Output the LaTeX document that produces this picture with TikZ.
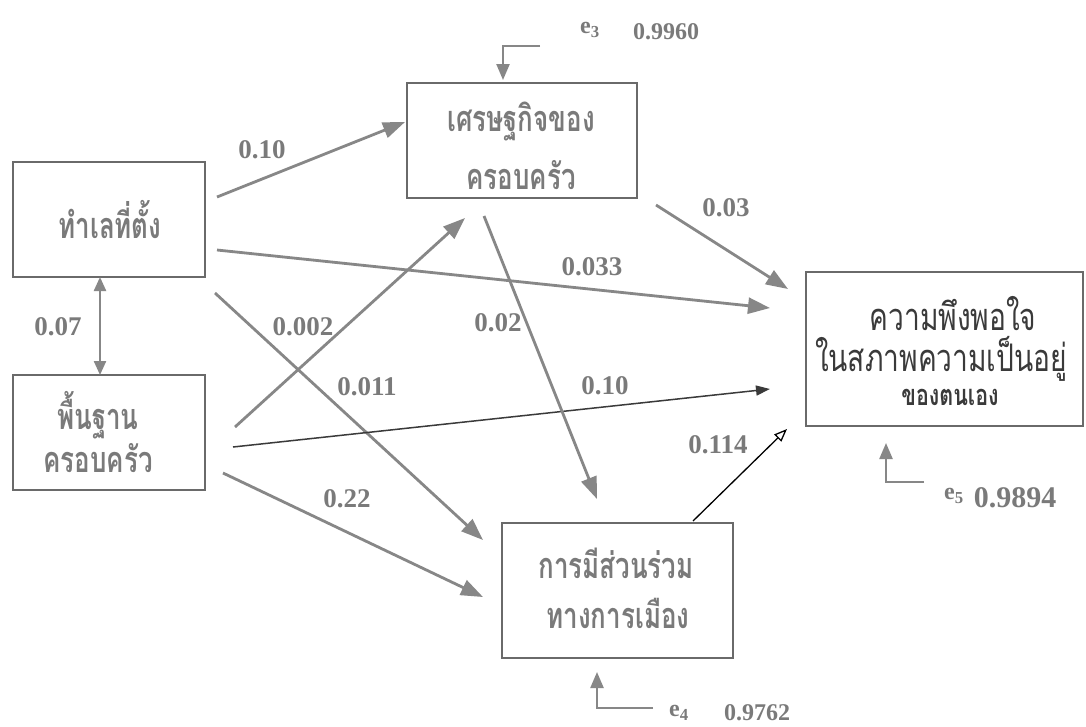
\documentclass[tikz,border=0pt]{standalone}
\usepackage{fontspec}
\setmainfont{Liberation Serif}
\newfontfamily\thaifont[Script=Thai, FakeStretch=0.72]{Loma}
\newfontfamily\thaiefont[Script=Thai, FakeStretch=0.74]{Loma}
\usetikzlibrary{arrows.meta}
\definecolor{lin}{HTML}{878787}
\definecolor{txt}{HTML}{7A7A7A}
\definecolor{boxc}{HTML}{6A6A6A}
\definecolor{dark}{HTML}{3A3A3A}
\tikzset{
  box/.style={draw=boxc, line width=1.8pt, inner sep=0pt},
  conn/.style={draw=lin, line width=2.8pt, -{Triangle[length=22pt,width=16pt]}},
  thinconn/.style={draw=dark, line width=1.5pt, -{Triangle[length=14pt,width=10pt]}},
  openconn/.style={draw=black, line width=1.3pt, -{Triangle[open,length=13pt,width=10pt]}},
  errconn/.style={draw=lin, line width=2.3pt, -{Triangle[length=16pt,width=13pt]}},
  coef/.style={text=txt, font=\fontsize{27}{30}\selectfont\bfseries, inner sep=0pt},
  elab/.style={text=txt, font=\fontsize{24}{28}\selectfont\bfseries, inner sep=0pt},
  thai/.style={text=txt, font=\thaifont\bfseries\fontsize{36}{40}\selectfont, inner sep=0pt},
  thaie/.style={text=dark, font=\thaiefont\fontsize{38}{42}\selectfont, inner sep=0pt}
}
\begin{document}
\begin{tikzpicture}[x=1pt,y=-1pt]
\useasboundingbox[fill=white] (0,0) rectangle (1086,726);

% boxes
\node[box, minimum width=192pt, minimum height=115pt] (A) at (109,219.5) {};
\node[box, minimum width=192pt, minimum height=115pt] (B) at (109,432.5) {};
\node[box, minimum width=230pt, minimum height=115pt] (C) at (522,140.5) {};
\node[box, minimum width=231pt, minimum height=135pt] (D) at (617.5,590.5) {};
\node[box, minimum width=277pt, minimum height=154pt] (E) at (944.5,349) {};

% box texts
\node[thai] (At) at (110,220) {ทำเลที่ตั้ง};
\node[thai] (Bt1) at (98,415) {พื้นฐาน};
\node[thai] (Bt2) at (98,458) {ครอบครัว};
\node[thai] (Ct1) at (521,121) {เศรษฐกิจของ};
\node[thai] (Ct2) at (521,175) {ครอบครัว};
\node[thai] (Dt1) at (616,563) {การมีส่วนร่วม};
\node[thai] (Dt2) at (618,613) {ทางการเมือง};
\node[thaie] (Et1) at (953,314) {ความพึงพอใจ};
\node[thaie] (Et2) at (941,359) {ในสภาพความเป็นอยู่};
\node[thaie, font=\thaiefont\bfseries\fontsize{29}{32}\selectfont] (Et3) at (950,397) {ของตนเอง};

% connector end points
\coordinate (a1) at (217,197);  \coordinate (c1) at (405,122);
\coordinate (a2) at (217,250);  \coordinate (e1) at (770,308);
\coordinate (a3) at (215,293);  \coordinate (d1) at (483,540);
\coordinate (b1) at (235,427);  \coordinate (c2) at (465,218);
\coordinate (b2) at (233,447);  \coordinate (e2) at (770,389);
\coordinate (b3) at (223,473);  \coordinate (d2) at (483,597);
\coordinate (c3) at (484,216);  \coordinate (d3) at (597,499);
\coordinate (c4) at (656,205);  \coordinate (e3) at (788,289);
\coordinate (d4) at (693,521);  \coordinate (e4) at (787,429);
\coordinate (ab1) at (100,277); \coordinate (ab2) at (100,375);

% connectors
\draw[conn] (a1) -- (c1);
\draw[conn] (a2) -- (e1);
\draw[conn] (a3) -- (d1);
\draw[conn] (b1) -- (c2);
\draw[thinconn] (b2) -- (e2);
\draw[conn] (b3) -- (d2);
\draw[conn] (c3) -- (d3);
\draw[conn] (c4) -- (e3);
\draw[openconn] (d4) -- (e4);
\draw[draw=lin, line width=2.3pt, {Triangle[length=14pt,width=12pt]}-{Triangle[length=14pt,width=12pt]}] (ab1) -- (ab2);

% coefficients
\node[coef] (k1) at (262,150) {0.10};
\node[coef] (k2) at (592,267) {0.033};
\node[coef] (k3) at (367,387) {0.011};
\node[coef] (k4) at (303,327) {0.002};
\node[coef] (k5) at (605,386) {0.10};
\node[coef] (k6) at (347,499) {0.22};
\node[coef] (k7) at (498,323) {0.02};
\node[coef] (k8) at (726,208) {0.03};
\node[coef] (k9) at (718,445) {0.114};
\node[coef] (k10) at (58,327) {0.07};

% error terms
\coordinate (r3a) at (540,46); \coordinate (r3b) at (503,46); \coordinate (r3c) at (503,80);
\draw[errconn] (r3a) -- (r3b) -- (r3c);
\node[elab, anchor=west] (e3l) at (580,30) {e\textsubscript{3}};
\node[elab] (e3v) at (666,32) {0.9960};

\coordinate (r4a) at (653,708); \coordinate (r4b) at (597,708); \coordinate (r4c) at (597,672);
\draw[errconn] (r4a) -- (r4b) -- (r4c);
\node[elab, anchor=west] (e4l) at (669,713) {e\textsubscript{4}};
\node[elab] (e4v) at (757,713) {0.9762};

\coordinate (r5a) at (924,482); \coordinate (r5b) at (886,482); \coordinate (r5c) at (886,443);
\draw[errconn] (r5a) -- (r5b) -- (r5c);
\node[elab, anchor=west] (e5l) at (944,496) {e\textsubscript{5}};
\node[elab, font=\fontsize{30}{34}\selectfont\bfseries] (e5v) at (1015,498) {0.9894};
\end{tikzpicture}
\end{document}
